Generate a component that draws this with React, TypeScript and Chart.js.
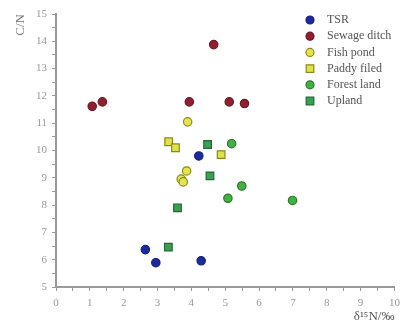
import React, { useEffect, useRef } from "react";
import { Chart, registerables } from "chart.js";

Chart.register(...registerables);

const seriesNames = ["TSR", "Sewage ditch", "Fish pond", "Paddy filed", "Forest land", "Upland"];

const tsrX = [2.64, 2.95, 4.29, 4.22];
const tsrY = [6.37, 5.89, 5.96, 9.8];

const sewageX = [1.07, 1.37, 3.94, 4.66, 5.12, 5.57];
const sewageY = [11.62, 11.78, 11.78, 13.88, 11.78, 11.72];

const fishX = [3.89, 3.86, 3.7, 3.76];
const fishY = [11.05, 9.25, 8.95, 8.85];

const paddyX = [3.33, 3.53, 4.88];
const paddyY = [10.32, 10.1, 9.85];

const forestX = [5.19, 5.49, 5.08, 6.99];
const forestY = [10.25, 8.7, 8.25, 8.17];

const uplandX = [4.48, 4.55, 3.59, 3.32];
const uplandY = [10.22, 9.07, 7.9, 6.46];

const xTicks = [0, 1, 2, 3, 4, 5, 6, 7, 8, 9, 10];
const yTicks = [5, 6, 7, 8, 9, 10, 11, 12, 13, 14, 15];

const styles = [
  { bg: "#1b2a9c", border: "#14207a", shape: "circle" },
  { bg: "#8e2030", border: "#6e1824", shape: "circle" },
  { bg: "#e4e450", border: "#8c8c18", shape: "circle" },
  { bg: "#e0e04a", border: "#8a8a1a", shape: "rect" },
  { bg: "#44b044", border: "#2a7a2a", shape: "circle" },
  { bg: "#3aa050", border: "#22683a", shape: "rect" },
];

const toPts = (xs: number[], ys: number[]) => xs.map((x, i) => ({ x, y: ys[i] }));

const allData = [
  toPts(tsrX, tsrY),
  toPts(sewageX, sewageY),
  toPts(fishX, fishY),
  toPts(paddyX, paddyY),
  toPts(forestX, forestY),
  toPts(uplandX, uplandY),
];

const legendPlugin = {
  id: "customLegend",
  afterDraw(chart: any) {
    const ctx = chart.ctx;
    ctx.save();
    const x0 = 310;
    const y0 = 20;
    const dy = 16.2;
    chart.data.datasets.forEach((ds: any, i: number) => {
      const y = y0 + i * dy;
      ctx.fillStyle = ds.backgroundColor;
      ctx.strokeStyle = ds.borderColor;
      ctx.lineWidth = 1.2;
      ctx.beginPath();
      if (ds.pointStyle === "rect") {
        ctx.rect(x0 - 3.8, y - 3.8, 7.6, 7.6);
      } else {
        ctx.arc(x0, y, 4, 0, Math.PI * 2);
      }
      ctx.fill();
      ctx.stroke();
      ctx.fillStyle = "#555";
      ctx.font = "12px 'Liberation Serif', serif";
      ctx.textBaseline = "middle";
      ctx.textAlign = "left";
      ctx.fillText(ds.label, x0 + 17, y);
    });
    ctx.restore();
  },
};

export default function App() {
  const ref = useRef<HTMLCanvasElement | null>(null);
  useEffect(() => {
    if (!ref.current) return;
    const chart = new Chart(ref.current, {
      type: "scatter",
      data: {
        datasets: allData.map((d, i) => ({
          label: seriesNames[i],
          data: d,
          backgroundColor: styles[i].bg,
          borderColor: styles[i].border,
          borderWidth: 1.2,
          pointStyle: styles[i].shape,
          pointRadius: styles[i].shape === "rect" ? 5.4 : 4.2,
        })),
      },
      options: {
        animation: false,
        responsive: false,
        maintainAspectRatio: false,
        layout: { padding: { left: 13, right: 0, top: 14, bottom: 0 } },
        plugins: {
          legend: { display: false },
          tooltip: { enabled: false },
        },
        scales: {
          x: {
            type: "linear",
            min: 0,
            max: 10,
            afterBuildTicks: (s: any) => {
              const t = [];
              for (let v = 0; v <= 10; v += 0.5) t.push({ value: v });
              s.ticks = t;
            },
            afterFit: (s: any) => {
              s.height = 41;
              s.paddingRight = 5;
              s.paddingLeft = 0;
            },
            border: { display: true, color: "#999", width: 2 },
            grid: {
              drawOnChartArea: false,
              drawTicks: true,
              tickLength: 4,
              tickColor: "#999",
              tickWidth: 1,
            },
            ticks: {
              autoSkip: false,
              maxRotation: 0,
              color: "#999",
              font: { family: "'Liberation Serif', serif", size: 11 },
              padding: 6,
              callback: (v: any) => (xTicks.includes(Number(v)) ? String(v) : ""),
            },
            title: {
              display: true,
              text: "δ¹⁵N/‰",
              align: "end",
              color: "#555",
              font: { family: "'Liberation Serif', serif", size: 13 },
              padding: { top: 0, bottom: 4 },
            },
          },
          y: {
            type: "linear",
            min: 5,
            max: 15,
            afterBuildTicks: (s: any) => {
              const t = [];
              for (let v = 5; v <= 15; v += 0.5) t.push({ value: v });
              s.ticks = t;
            },
            afterFit: (s: any) => {
              s.width = 43;
            },
            border: { display: true, color: "#999", width: 2 },
            grid: {
              drawOnChartArea: false,
              drawTicks: true,
              tickLength: 4,
              tickColor: "#999",
              tickWidth: 1,
            },
            ticks: {
              autoSkip: false,
              color: "#999",
              font: { family: "'Liberation Serif', serif", size: 11 },
              padding: 5,
              callback: (v: any) => (yTicks.includes(Number(v)) ? String(v) : ""),
            },
            title: {
              display: true,
              text: "C/N",
              align: "end",
              color: "#777",
              font: { family: "'Liberation Serif', serif", size: 13 },
              padding: { top: 0, bottom: 0 },
            },
          },
        },
      },
      plugins: [legendPlugin],
    } as any);
    return () => chart.destroy();
  }, []);
  return (
    <div style={{ position: "fixed", left: 0, top: 0, width: 401, height: 328, background: "#fff" }}>
      <canvas ref={ref} width={401} height={328} style={{ width: 401, height: 328 }} />
    </div>
  );
}
